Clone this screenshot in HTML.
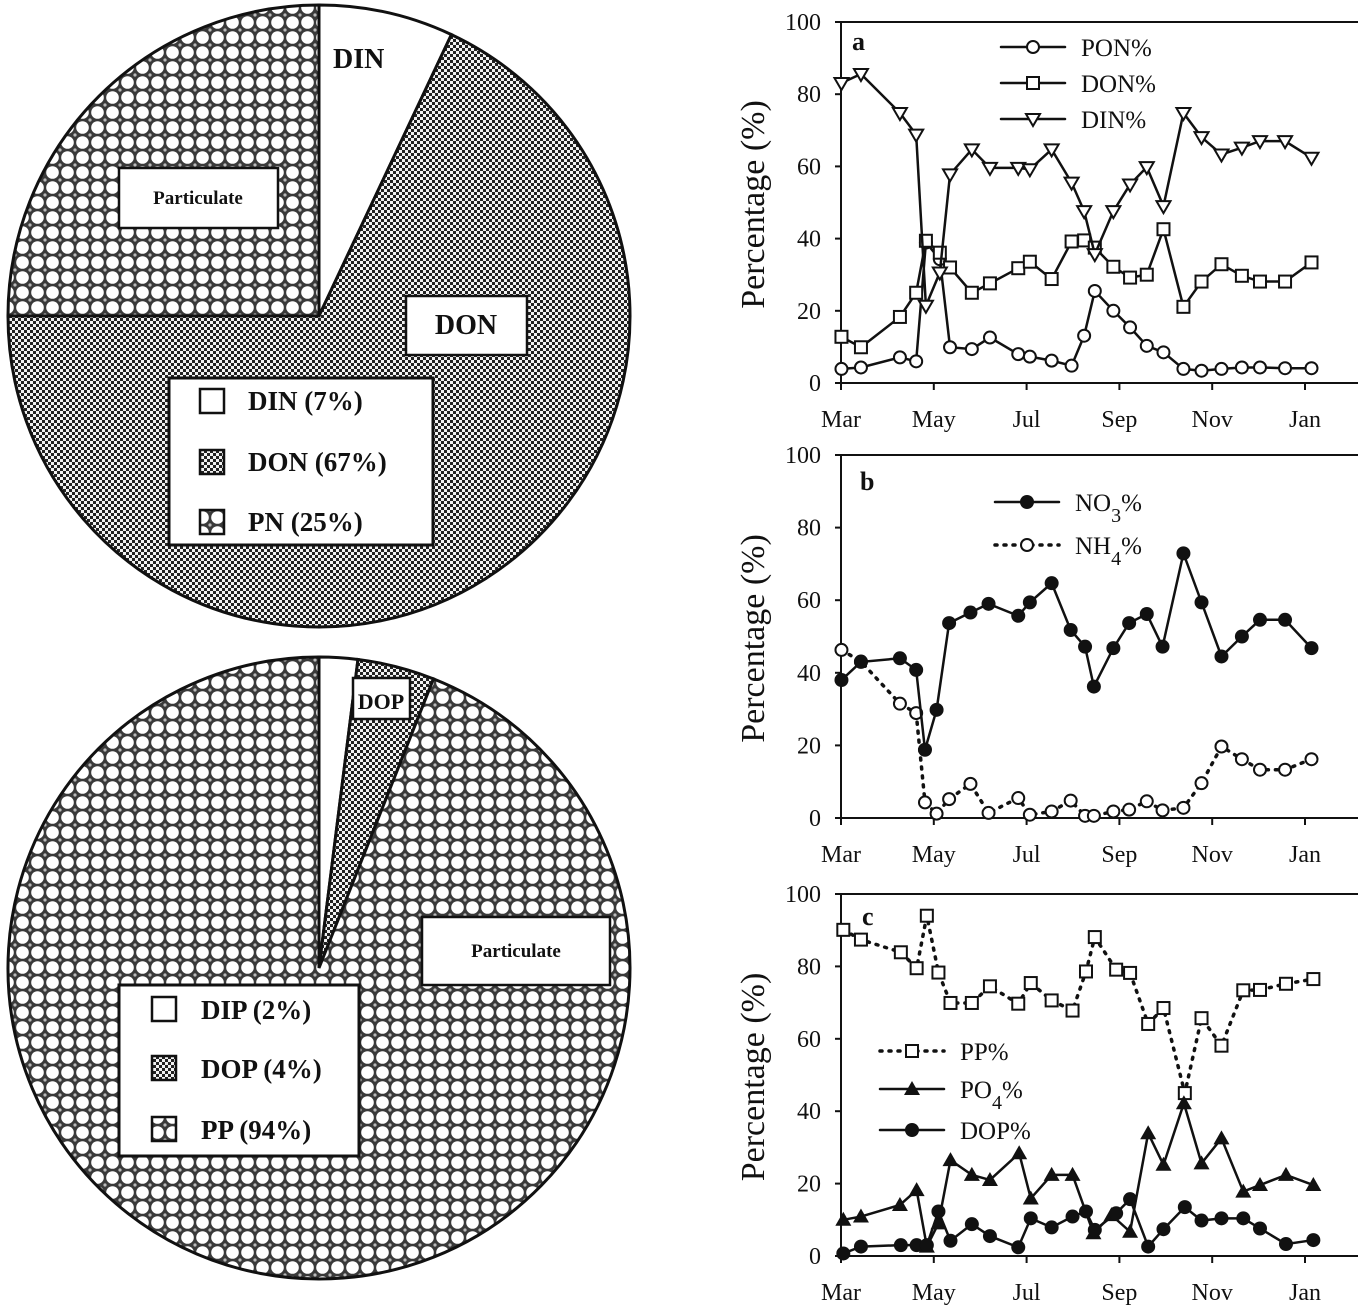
<!DOCTYPE html>
<html><head><meta charset="utf-8"><style>
html,body{margin:0;padding:0;background:#fff;}
svg{display:block;font-family:"Liberation Serif",serif;}
</style></head>
<body>
<svg id="fig" width="1358" height="1311" viewBox="0 0 1358 1311">
<defs>
<pattern id="circ" width="15" height="15" patternUnits="userSpaceOnUse">
<rect width="15" height="15" fill="#3a3a3a"/>
<circle cx="7.5" cy="7.5" r="6.3" fill="#fff"/>
<circle cx="0" cy="0" r="1.6" fill="#bbb"/><circle cx="15" cy="0" r="1.6" fill="#bbb"/>
<circle cx="0" cy="15" r="1.6" fill="#bbb"/><circle cx="15" cy="15" r="1.6" fill="#bbb"/>
</pattern>
<pattern id="chk" width="6" height="6" patternUnits="userSpaceOnUse">
<rect width="6" height="6" fill="#f2f2f2"/>
<rect x="0" y="0" width="3" height="3" fill="#222"/>
<rect x="3" y="3" width="3" height="3" fill="#222"/>
</pattern>
</defs>
<g id="pies"></g>
<g id="charts"></g>
</svg>
<script>
const NS="http://www.w3.org/2000/svg";
function mk(tag,attrs,parent){const e=document.createElementNS(NS,tag);for(const k in attrs)e.setAttribute(k,attrs[k]);parent.appendChild(e);return e;}

// ---------- Pie data ----------
const pie1Labels=["DIN","DON","PN"];
const pie1Values=[7,68,25];
const pie2Labels=["DIP","DOP","PP"];
const pie2Values=[2,4,94];

const piesG=document.getElementById('pies');
function drawPie(cx,cy,r,vals,fills,names){
  const tot=vals.reduce((a,b)=>a+b,0);let acc=0;
  vals.forEach((v,i)=>{
    const a0=acc/tot*2*Math.PI;acc+=v;const a1=acc/tot*2*Math.PI;
    const x0=cx+r*Math.sin(a0),y0=cy-r*Math.cos(a0),x1=cx+r*Math.sin(a1),y1=cy-r*Math.cos(a1);
    const large=(a1-a0)>Math.PI?1:0;
    const p=mk('path',{d:`M${cx},${cy} L${x0},${y0} A${r},${r} 0 ${large} 1 ${x1},${y1} Z`,fill:fills[i],stroke:'#111','stroke-width':3},piesG);
    
    
  });
}
drawPie(319,316,311,pie1Values,['#fff','url(#chk)','url(#circ)'],['din-slice','don-slice','particulate-n-slice']);
drawPie(319,968,311,pie2Values,['#fff','url(#chk)','url(#circ)'],['dip-slice','dop-slice','particulate-p-slice']);

function box(x,y,w,h,name,sw){const b=mk('rect',{x:x,y:y,width:w,height:h,fill:'#fff',stroke:'#111','stroke-width':(sw===undefined?2.5:sw)},piesG);
  
  return b;}
function txt(x,y,s,size,name,parent,anchor,weight){const t=mk('text',{x:x,y:y,'font-size':size,'font-weight':weight||'bold','text-anchor':anchor||'start',fill:'#111'},parent||piesG);t.textContent=s;
  
  return t;}

// Pie 1 labels
txt(333,68,'DIN',28,'din-label');
box(119,168,159,60,'particulate-label-box');
txt(198,204,'Particulate',19,'particulate-label',null,'middle');
box(406,296,121,59,'don-label-box');
txt(466,334,'DON',28,'don-label',null,'middle');
box(169,378,264,167,'pie1-legend',3);
[['#fff','DIN (7%)',400],['url(#chk)','DON (67%)',461],['url(#circ)','PN (25%)',521]].forEach((it,i)=>{
  const s=mk('rect',{x:200,y:it[2]-11,width:24,height:24,fill:it[0],stroke:'#111','stroke-width':2.5},piesG);
  
  
  txt(248,it[2]+10,it[1],27,'pie1-legend-label');
});
// Pie 2 labels
box(353,678,57,41,'dop-label-box');
txt(381,709,'DOP',22,'dop-label',null,'middle');
box(422,917,188,68,'particulate-p-label-box');
txt(516,957,'Particulate',19,'particulate-p-label',null,'middle');
box(119,985,240,171,'pie2-legend',3);
[['#fff','DIP (2%)',1009],['url(#chk)','DOP (4%)',1068],['url(#circ)','PP (94%)',1129]].forEach((it,i)=>{
  const s=mk('rect',{x:152,y:it[2]-12,width:24,height:24,fill:it[0],stroke:'#111','stroke-width':2.5},piesG);
  
  
  txt(201,it[2]+10,it[1],27,'pie2-legend-label');
});

// ---------- Line chart data ----------
const monthLabels=["Mar","May","Jul","Sep","Nov","Jan"];
const yTicks=[0,20,40,60,80,100];
const datesA=[0.01,0.43,1.27,1.62,1.83,2.13,2.35,2.82,3.21,3.82,4.07,4.54,4.97,5.24,5.47,5.87,6.23,6.59,6.95,7.38,7.77,8.20,8.64,9.03,9.57,10.14];
const ponVals=[3.9,4.3,7.1,6,38.9,34.3,9.9,9.4,12.6,8,7.3,6.2,4.8,13.1,25.5,20,15.4,10.3,8.5,3.9,3.4,3.9,4.3,4.3,4.1,4.1];
const donVals=[12.8,9.9,18.3,25,39.4,36.1,32,25,27.6,31.8,33.6,28.8,39.2,39.5,37.5,32.2,29.2,30,42.6,21.1,28.1,32.9,29.7,28.1,28.1,33.4];
const dinVals=[83.1,85.6,74.8,68.8,21.4,30.6,57.8,64.7,59.6,59.6,59.2,64.7,55.5,47.6,35.7,47.6,55,59.8,49,74.8,68.1,63.3,65.2,67,67,62.4];
const datesB=[0.01,0.43,1.27,1.62,1.81,2.06,2.33,2.79,3.18,3.82,4.07,4.54,4.95,5.26,5.45,5.87,6.21,6.59,6.93,7.38,7.77,8.20,8.64,9.03,9.57,10.14];
const no3Vals=[38,43,44,40.8,18.8,29.8,53.7,56.6,59,55.7,59.4,64.7,51.8,47.2,36.2,46.8,53.7,56.2,47.2,72.9,59.4,44.5,50,54.6,54.6,46.8];
const nh4Vals=[46.3,43.1,31.5,28.9,4.3,1.2,5.2,9.4,1.4,5.5,0.9,1.8,4.8,0.6,0.6,1.8,2.3,4.6,2.1,2.8,9.6,19.7,16.2,13.3,13.3,16.2];
const datesC=[0.05,0.43,1.29,1.63,1.85,2.10,2.36,2.82,3.21,3.82,4.09,4.54,4.99,5.28,5.47,5.93,6.23,6.62,6.95,7.41,7.77,8.20,8.67,9.03,9.59,10.18];
const ppVals=[90.1,87.4,83.9,79.5,94,78.3,69.9,69.9,74.5,69.7,75.4,70.6,67.8,78.6,88.1,79.1,78.2,64.1,68.5,45,65.7,58.1,73.4,73.5,75.2,76.5];
const dopVals=[0.7,2.6,3,3,3,12.3,4.2,8.8,5.5,2.4,10.4,7.9,10.9,12.3,7.2,11.8,15.7,2.6,7.4,13.5,9.8,10.4,10.4,7.6,3.3,4.4];
const datesPO4=[0.05,0.43,1.27,1.63,1.85,2.10,2.36,2.82,3.21,3.84,4.09,4.54,4.99,5.44,5.83,6.23,6.62,6.95,7.39,7.77,8.20,8.67,9.03,9.59,10.18];
const po4Vals=[10,10.9,14.1,18.2,2.6,9,26.5,22.4,21,28.4,15.9,22.4,22.4,6.3,11.3,6.7,33.9,25.2,42.2,25.6,32.5,17.8,19.6,22.4,19.6];

const chartsG=document.getElementById('charts');
const X0=841,PXM=46.4;
function xs(m){return X0+m*PXM;}

function marker(g,type,x,y,name){
  let e;
  if(type==='ocircle')e=mk('circle',{cx:x,cy:y,r:6,fill:'#fff',stroke:'#111','stroke-width':2},g);
  else if(type==='fcircle')e=mk('circle',{cx:x,cy:y,r:7,fill:'#111'},g);
  else if(type==='osquare')e=mk('rect',{x:x-6,y:y-6,width:12,height:12,fill:'#fff',stroke:'#111','stroke-width':2},g);
  else if(type==='otri')e=mk('path',{d:`M${x-7},${y-5} L${x+7},${y-5} L${x},${y+7} Z`,fill:'#fff',stroke:'#111','stroke-width':2},g);
  else if(type==='ftri')e=mk('path',{d:`M${x-8},${y+6} L${x+8},${y+6} L${x},${y-8} Z`,fill:'#111'},g);
  
  
}

function chart(id,yTop,y0,letter,letterPos,series,legend){
  const g=mk('g',{},chartsG);
  
  
  const ys=v=>y0-(v/100)*(y0-yTop);
  const ax=mk('path',{d:`M${X0},${yTop} L${X0},${y0} L1358,${y0} M${X0},${yTop} L1358,${yTop}`,fill:'none',stroke:'#111','stroke-width':2},g);
  
  
  yTicks.forEach(t=>{
    mk('line',{x1:X0-6,x2:X0,y1:ys(t),y2:ys(t),stroke:'#111','stroke-width':2},g);
    txt(X0-20,ys(t)+8,String(t),24,'y-tick-label',g,'end','normal');
  });
  monthLabels.forEach((m,i)=>{
    const x=xs(i*2);
    mk('line',{x1:x,x2:x,y1:y0,y2:y0+7,stroke:'#111','stroke-width':2},g);
    txt(x,y0+44,m,24,'x-tick-label',g,'middle','normal');
  });
  const yt=txt(0,0,'Percentage (%)',34,'y-axis-title',g,'middle','normal');
  yt.setAttribute('transform',`translate(764,${(yTop+y0)/2+2}) rotate(-90)`);
  txt(letterPos[0],letterPos[1],letter,26,'panel-letter',g,'start','bold');
  series.forEach(s=>{
    const pts=s.d.map((m,i)=>xs(m)+','+ys(s.v[i])).join(' ');
    const pl=mk('polyline',{points:pts,fill:'none',stroke:'#111','stroke-width':s.dash?3.5:2.5,'stroke-dasharray':s.dash?'2,7':'none','stroke-linecap':'round'},g);
    
    
    s.d.forEach((m,i)=>marker(g,s.m,xs(m),ys(s.v[i]),s.name+'-point'));
  });
  legend.forEach(l=>{
    const ln=mk('line',{x1:l.x,x2:l.x+64,y1:l.y,y2:l.y,stroke:'#111','stroke-width':l.dash?3.5:2.5,'stroke-dasharray':l.dash?'2,7':'none','stroke-linecap':'round'},g);
    
    
    marker(g,l.m,l.x+32,l.y,'legend-marker');
    const t=txt(l.x+80,l.y+9,'',25,'legend-entry',g,'start','normal');
    if(l.sub){t.textContent=l.t[0];const ts=mk('tspan',{'baseline-shift':'sub','font-size':20},t);ts.textContent=l.sub;const t2=mk('tspan',{},t);t2.textContent='%';}
    else t.textContent=l.t;
  });
}

chart('a',22,383,'a',[852,50],[
  {d:datesA,v:ponVals,m:'ocircle',name:'pon'},
  {d:datesA,v:donVals,m:'osquare',name:'don'},
  {d:datesA,v:dinVals,m:'otri',name:'din'}],
  [{x:1001,y:47,m:'ocircle',t:'PON%'},{x:1001,y:83,m:'osquare',t:'DON%'},{x:1001,y:119,m:'otri',t:'DIN%'}]);
chart('b',455,818,'b',[860,490],[
  {d:datesB,v:nh4Vals,m:'ocircle',name:'nh4',dash:true},
  {d:datesB,v:no3Vals,m:'fcircle',name:'no3'}],
  [{x:995,y:502,m:'fcircle',t:['NO'],sub:'3'},{x:995,y:545,m:'ocircle',t:['NH'],sub:'4',dash:true}]);
chart('c',894,1256,'c',[862,925],[
  {d:datesC,v:ppVals,m:'osquare',name:'pp',dash:true},
  {d:datesPO4,v:po4Vals,m:'ftri',name:'po4'},
  {d:datesC,v:dopVals,m:'fcircle',name:'dop'}],
  [{x:880,y:1051,m:'osquare',t:'PP%',dash:true},{x:880,y:1089,m:'ftri',t:['PO'],sub:'4'},{x:880,y:1130,m:'fcircle',t:'DOP%'}]);
</script>
</body></html>
